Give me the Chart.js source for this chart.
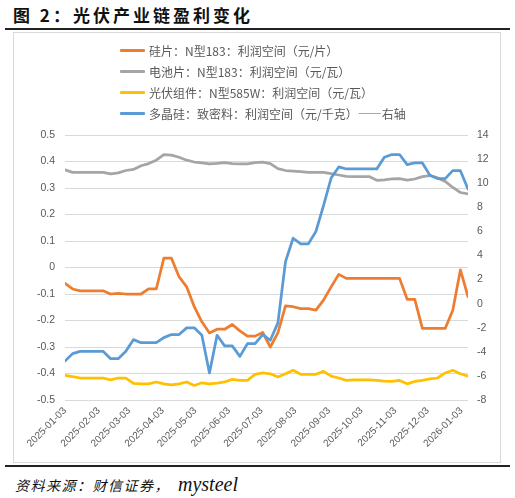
<!DOCTYPE html>
<html lang="zh">
<head>
<meta charset="UTF-8">
<title>光伏产业链盈利变化</title>
<script src="https://cdn.jsdelivr.net/npm/chart.js"></script>
<style>
    body { margin: 0; width: 515px; height: 498px; background: #fff; position: relative; overflow: hidden; font-family: 'Noto Sans CJK SC', sans-serif; }
    #title { position: absolute; left: 13px; top: 3px; font-size: 17px; font-weight: bold; letter-spacing: 3px; color: #111; line-height: 24px; white-space: nowrap; }
    .rule { position: absolute; left: 5px; width: 505px; height: 2px; background: #222; }
    #chartbox { position: absolute; left: 13px; top: 32px; width: 486px; height: 429px; border: 1px solid #d9d9d9; }
    #chartbox canvas { position: absolute; left: 0; top: 0; }
    #legend { position: absolute; left: 106px; top: 6.5px; }
    .item { height: 21px; display: flex; align-items: center; font-size: 12px; color: #595959; white-space: nowrap; }
    .swatch { width: 25px; height: 3px; margin-right: 4px; border-radius: 1px; }
    #source { position: absolute; left: 15px; top: 472px; font-style: italic; color: #111; white-space: nowrap; }
    #source .cn { font-size: 14px; letter-spacing: 1.5px; font-family: 'Noto Sans CJK SC', sans-serif; }
    #source .en { font-size: 20px; margin-left: 8px; font-family: 'Liberation Serif', serif; }
</style>
</head>
<body>
<div id="title">图 2：光伏产业链盈利变化</div>
<div class="rule" style="top:28px"></div>
<div id="chartbox">
    <canvas id="profitChart" width="486" height="429"></canvas>
    <div id="legend"></div>
</div>
<div class="rule" style="top:465px"></div>
<div id="source"><span class="cn">资料来源：财信证券，</span><span class="en">mysteel</span></div>

<script>
// weekly observation dates
var dates = [
    '2025-01-03','2025-01-10','2025-01-17','2025-01-24','2025-01-31',
    '2025-02-07','2025-02-14','2025-02-21','2025-02-28',
    '2025-03-07','2025-03-14','2025-03-21','2025-03-28',
    '2025-04-04','2025-04-11','2025-04-18','2025-04-25',
    '2025-05-02','2025-05-09','2025-05-16','2025-05-23','2025-05-30',
    '2025-06-06','2025-06-13','2025-06-20','2025-06-27',
    '2025-07-04','2025-07-11','2025-07-18','2025-07-25',
    '2025-08-01','2025-08-08','2025-08-15','2025-08-22','2025-08-29',
    '2025-09-05','2025-09-12','2025-09-19','2025-09-26',
    '2025-10-03','2025-10-10','2025-10-17','2025-10-24','2025-10-31',
    '2025-11-07','2025-11-14','2025-11-21','2025-11-28',
    '2025-12-05','2025-12-12','2025-12-19','2025-12-26',
    '2026-01-02','2026-01-09'
];

var tickLabels = [
    '2025-01-03','2025-02-03','2025-03-03','2025-04-03','2025-05-03','2025-06-03','2025-07-03',
    '2025-08-03','2025-09-03','2025-10-03','2025-11-03','2025-12-03','2026-01-03'
];

var seriesNames = [
    '硅片：N型183：利润空间（元/片）',
    '电池片：N型183：利润空间（元/瓦）',
    '光伏组件：N型585W：利润空间（元/瓦）',
    '多晶硅：致密料：利润空间（元/千克）——右轴'
];

// 硅片 (left axis)
var waferProfit = [
    -0.060, -0.081, -0.088, -0.088, -0.088, -0.088, -0.100, -0.098, -0.100, -0.100,
    -0.100, -0.081, -0.081, 0.035, 0.035, -0.035, -0.073, -0.148, -0.205, -0.247,
    -0.233, -0.233, -0.215, -0.239, -0.259, -0.259, -0.245, -0.300, -0.247, -0.145,
    -0.148, -0.155, -0.155, -0.161, -0.123, -0.073, -0.026, -0.041, -0.041, -0.041,
    -0.041, -0.041, -0.041, -0.041, -0.041, -0.120, -0.120, -0.230, -0.230, -0.230,
    -0.230, -0.161, -0.009, -0.110
];

// 电池片 (left axis)
var cellProfit = [
    0.369, 0.359, 0.359, 0.359, 0.359, 0.359, 0.353, 0.357, 0.366, 0.370,
    0.384, 0.392, 0.405, 0.426, 0.424, 0.416, 0.405, 0.398, 0.395, 0.391,
    0.393, 0.396, 0.392, 0.391, 0.391, 0.396, 0.398, 0.392, 0.373, 0.366,
    0.364, 0.362, 0.359, 0.359, 0.359, 0.354, 0.349, 0.344, 0.343, 0.343,
    0.343, 0.329, 0.331, 0.334, 0.335, 0.330, 0.334, 0.343, 0.347, 0.338,
    0.325, 0.302, 0.283, 0.278
];

// 光伏组件 (left axis)
var moduleProfit = [
    -0.407, -0.412, -0.417, -0.417, -0.417, -0.417, -0.424, -0.417, -0.417, -0.437,
    -0.439, -0.439, -0.432, -0.439, -0.443, -0.439, -0.432, -0.445, -0.435, -0.439,
    -0.436, -0.432, -0.422, -0.426, -0.426, -0.403, -0.398, -0.401, -0.413, -0.401,
    -0.388, -0.403, -0.403, -0.403, -0.392, -0.410, -0.417, -0.426, -0.424, -0.424,
    -0.424, -0.426, -0.429, -0.430, -0.426, -0.439, -0.430, -0.426, -0.420, -0.417,
    -0.398, -0.388, -0.401, -0.410
];

// 多晶硅 (right axis)
var polyProfit = [
    -4.77, -4.15, -3.96, -3.96, -3.96, -3.96, -4.57, -4.57, -3.96, -2.99,
    -3.24, -3.24, -3.24, -2.82, -2.57, -2.57, -2.01, -2.01, -2.63, -5.76,
    -2.63, -3.51, -3.51, -4.38, -3.32, -3.32, -2.57, -3.04, -1.60, 3.49,
    5.43, 4.96, 4.96, 5.99, 8.13, 10.43, 11.35, 11.18, 11.18, 11.18,
    11.18, 11.18, 12.15, 12.38, 12.38, 11.54, 11.68, 11.68, 10.65, 10.38,
    10.38, 11.04, 11.04, 9.51
];

var seriesColors = ['#ED7D31', '#A5A5A5', '#FFC000', '#5B9BD5'];

var DAY = 24 * 3600 * 1000;
var startTime = Date.parse(dates[0]);
function dayOf(d) {
    return Math.round((Date.parse(d) - startTime) / DAY);
}
function toPoints(values) {
    return values.map(function (v, i) { return { x: dayOf(dates[i]), y: v }; });
}

Chart.defaults.font.family = "'Liberation Sans', 'Noto Sans CJK SC', sans-serif";
Chart.defaults.color = '#595959';

function lineSet(idx, values, axis, order) {
    return {
        label: seriesNames[idx],
        data: toPoints(values),
        yAxisID: axis,
        borderColor: seriesColors[idx],
        backgroundColor: seriesColors[idx],
        borderWidth: 2.75,
        pointRadius: 0,
        tension: 0,
        borderJoinStyle: 'round',
        borderCapStyle: 'round',
        order: order
    };
}

var ctx = document.getElementById('profitChart').getContext('2d');
var profitChart = new Chart(ctx, {
    type: 'line',
    data: {
        datasets: [
            lineSet(0, waferProfit, 'y', 1),
            lineSet(1, cellProfit, 'y', 2),
            lineSet(2, moduleProfit, 'y', 3),
            lineSet(3, polyProfit, 'y1', 0)
        ]
    },
    options: {
        responsive: false,
        animation: false,
        layout: { padding: { top: 102, left: 0, right: 0, bottom: 0 } },
        plugins: {
            legend: { display: false },
            tooltip: { enabled: false }
        },
        scales: {
            x: {
                type: 'linear',
                min: 0,
                max: dayOf(dates[dates.length - 1]),
                grid: { display: false, drawTicks: false },
                border: { display: false },
                afterBuildTicks: function (axis) {
                    axis.ticks = tickLabels.map(function (d) { return { value: dayOf(d) }; });
                },
                afterFit: function (axis) { axis.height = 62; },
                ticks: {
                    autoSkip: false,
                    minRotation: 45,
                    maxRotation: 45,
                    padding: 5,
                    font: { size: 10 },
                    callback: function (value, index) { return tickLabels[index]; }
                }
            },
            y: {
                position: 'left',
                min: -0.5,
                max: 0.5,
                grid: { color: '#d9d9d9', lineWidth: 1, drawTicks: false },
                border: { display: false },
                afterFit: function (axis) { axis.width = 51; },
                ticks: {
                    stepSize: 0.1,
                    padding: 10,
                    font: { size: 10.5 },
                    callback: function (v) { return String(Math.round(v * 10) / 10); }
                }
            },
            y1: {
                position: 'right',
                min: -8,
                max: 14,
                grid: { display: false, drawTicks: false },
                border: { display: false },
                afterFit: function (axis) { axis.width = 32; },
                ticks: {
                    stepSize: 2,
                    padding: 9,
                    font: { size: 10.5 }
                }
            }
        }
    }
});

// legend, one row per series, built from the chart datasets
var legendBox = document.getElementById('legend');
[0, 1, 2, 3].forEach(function (i) {
    var ds = profitChart.data.datasets[i];
    var row = document.createElement('div');
    row.className = 'item';
    var sw = document.createElement('span');
    sw.className = 'swatch';
    sw.style.background = ds.borderColor;
    var txt = document.createElement('span');
    txt.textContent = ds.label;
    row.appendChild(sw);
    row.appendChild(txt);
    legendBox.appendChild(row);
});
</script>
</body>
</html>
